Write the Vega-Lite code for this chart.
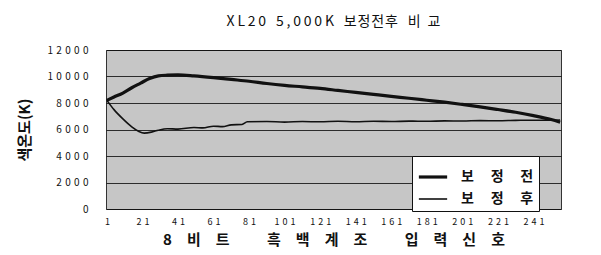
{
  "$schema": "https://vega.github.io/schema/vega-lite/v6.json",
  "autosize": "none",
  "width": 455,
  "height": 159,
  "padding": {"left": 106, "top": 50, "right": 40, "bottom": 46},
  "background": "white",
  "config": {
    "font": "Noto Sans CJK KR",
    "view": {"fill": "#c6c6c6", "stroke": "#333333", "strokeWidth": 1}
  },
  "title": {
    "text": "X\u2009L\u20092\u20090\u2002\u20095\u2009,\u20090\u20090\u20090\u2009K\u2002\u2009보\u200a정\u200a전\u200a후\u2002\u2009비\u2002교",
    "fontSize": 14,
    "fontWeight": "normal",
    "color": "#111111",
    "anchor": "middle",
    "offset": 16
  },
  "data": {
    "values": [
      {"x": 1, "v": 8200, "s": "보정전"},
      {"x": 5, "v": 8450, "s": "보정전"},
      {"x": 10, "v": 8750, "s": "보정전"},
      {"x": 15, "v": 9150, "s": "보정전"},
      {"x": 20, "v": 9500, "s": "보정전"},
      {"x": 25, "v": 9850, "s": "보정전"},
      {"x": 30, "v": 10050, "s": "보정전"},
      {"x": 35, "v": 10100, "s": "보정전"},
      {"x": 41, "v": 10120, "s": "보정전"},
      {"x": 50, "v": 10050, "s": "보정전"},
      {"x": 61, "v": 9920, "s": "보정전"},
      {"x": 71, "v": 9780, "s": "보정전"},
      {"x": 81, "v": 9640, "s": "보정전"},
      {"x": 91, "v": 9470, "s": "보정전"},
      {"x": 101, "v": 9330, "s": "보정전"},
      {"x": 111, "v": 9220, "s": "보정전"},
      {"x": 121, "v": 9100, "s": "보정전"},
      {"x": 131, "v": 8950, "s": "보정전"},
      {"x": 141, "v": 8800, "s": "보정전"},
      {"x": 151, "v": 8650, "s": "보정전"},
      {"x": 161, "v": 8500, "s": "보정전"},
      {"x": 171, "v": 8360, "s": "보정전"},
      {"x": 181, "v": 8210, "s": "보정전"},
      {"x": 191, "v": 8060, "s": "보정전"},
      {"x": 201, "v": 7890, "s": "보정전"},
      {"x": 211, "v": 7710, "s": "보정전"},
      {"x": 221, "v": 7510, "s": "보정전"},
      {"x": 231, "v": 7300, "s": "보정전"},
      {"x": 241, "v": 7050, "s": "보정전"},
      {"x": 251, "v": 6750, "s": "보정전"},
      {"x": 256, "v": 6550, "s": "보정전"},
      {"x": 1, "v": 8200, "s": "보정후"},
      {"x": 5, "v": 7500, "s": "보정후"},
      {"x": 10, "v": 6800, "s": "보정후"},
      {"x": 15, "v": 6200, "s": "보정후"},
      {"x": 19, "v": 5850, "s": "보정후"},
      {"x": 22, "v": 5730, "s": "보정후"},
      {"x": 26, "v": 5800, "s": "보정후"},
      {"x": 30, "v": 5950, "s": "보정후"},
      {"x": 35, "v": 6060, "s": "보정후"},
      {"x": 41, "v": 6030, "s": "보정후"},
      {"x": 50, "v": 6150, "s": "보정후"},
      {"x": 55, "v": 6120, "s": "보정후"},
      {"x": 61, "v": 6250, "s": "보정후"},
      {"x": 66, "v": 6220, "s": "보정후"},
      {"x": 71, "v": 6350, "s": "보정후"},
      {"x": 77, "v": 6380, "s": "보정후"},
      {"x": 80, "v": 6580, "s": "보정후"},
      {"x": 91, "v": 6600, "s": "보정후"},
      {"x": 101, "v": 6560, "s": "보정후"},
      {"x": 111, "v": 6600, "s": "보정후"},
      {"x": 121, "v": 6580, "s": "보정후"},
      {"x": 131, "v": 6620, "s": "보정후"},
      {"x": 141, "v": 6580, "s": "보정후"},
      {"x": 151, "v": 6620, "s": "보정후"},
      {"x": 161, "v": 6600, "s": "보정후"},
      {"x": 171, "v": 6630, "s": "보정후"},
      {"x": 181, "v": 6620, "s": "보정후"},
      {"x": 191, "v": 6650, "s": "보정후"},
      {"x": 201, "v": 6640, "s": "보정후"},
      {"x": 211, "v": 6670, "s": "보정후"},
      {"x": 221, "v": 6660, "s": "보정후"},
      {"x": 231, "v": 6690, "s": "보정후"},
      {"x": 241, "v": 6700, "s": "보정후"},
      {"x": 251, "v": 6700, "s": "보정후"},
      {"x": 256, "v": 6720, "s": "보정후"}
    ]
  },
  "mark": {"type": "line", "color": "#111111", "interpolate": "monotone"},
  "encoding": {
    "x": {
      "field": "x",
      "type": "quantitative",
      "scale": {"domain": [0.5, 256.5], "nice": false, "zero": false},
      "axis": {
        "values": [1, 21, 41, 61, 81, 101, 121, 141, 161, 181, 201, 221, 241],
        "labelExpr": "join(split(datum.label, ''), '\u2004')",
        "grid": false,
        "ticks": false,
        "domain": false,
        "labelFontSize": 9,
        "labelColor": "#111111",
        "labelPadding": 8,
        "labelFlush": false,
        "labelOverlap": false,
        "title": "8\u2003비\u2003트\u2003\u2003\u2002흑\u2003백\u2003계\u2003조\u2003\u2003\u2002입\u2003력\u2003신\u2003호",
        "titleFontSize": 15,
        "titleFontWeight": "bold",
        "titleColor": "#111111",
        "titlePadding": 6
      }
    },
    "y": {
      "field": "v",
      "type": "quantitative",
      "scale": {"domain": [0, 12000], "nice": false},
      "axis": {
        "values": [0, 2000, 4000, 6000, 8000, 10000, 12000],
        "format": "d",
        "labelExpr": "join(split(datum.label, ''), '\u2004')",
        "grid": true,
        "gridColor": "#111111",
        "gridWidth": 1,
        "gridOpacity": 0.85,
        "ticks": false,
        "domain": false,
        "labelFontSize": 10,
        "labelColor": "#111111",
        "labelPadding": 18,
        "title": "색온도(K)",
        "titleFontSize": 15,
        "titleFontWeight": "bold",
        "titleColor": "#111111",
        "titlePadding": 14
      }
    },
    "strokeWidth": {
      "field": "s",
      "type": "nominal",
      "scale": {"domain": ["보정전", "보정후"], "range": [3.2, 1.6]},
      "legend": {
        "title": null,
        "orient": "none",
        "legendX": 306,
        "legendY": 106,
        "fillColor": "white",
        "strokeColor": "#111111",
        "padding": 5,
        "symbolType": "stroke",
        "symbolSize": 800,
        "symbolStrokeColor": "#111111",
        "labelExpr": "join(split(datum.label, ''), '\u2003\u2009')",
        "labelFontSize": 14,
        "labelFontWeight": "bold",
        "labelColor": "#111111",
        "rowPadding": 0,
        "labelOffset": 12
      }
    }
  }
}
